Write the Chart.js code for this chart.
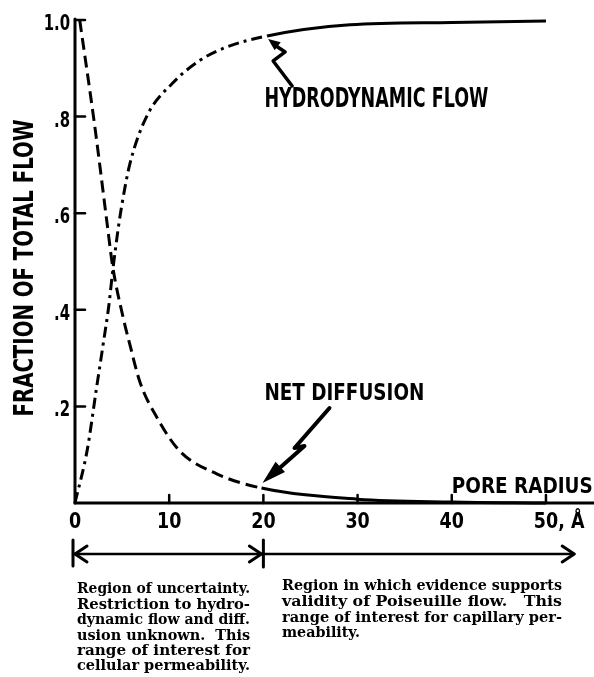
<!DOCTYPE html>
<html><head><meta charset="utf-8">
<script src="https://cdn.jsdelivr.net/npm/chart.js@4.4.0/dist/chart.umd.min.js"></script>
<style>html,body{margin:0;padding:0;background:#fff;} #wrap{width:594px;height:677px;position:relative;}</style>
</head><body><div id="wrap"><canvas id="c" width="594" height="677" style="width:594px;height:677px"></canvas></div>
<script>
// ---- data ----
const hydroX = [0, 1.3, 2.3, 3.0, 3.6, 4.0, 4.6, 5.0, 5.8, 7.6, 10.4, 13.3, 16.1, 20.4, 29.2, 40, 50];
const hydroY = [0, 0.11, 0.24, 0.33, 0.41, 0.48, 0.57, 0.62, 0.70, 0.80, 0.87, 0.917, 0.944, 0.967, 0.99, 0.995, 0.998];
const diffX = [0.5, 2.1, 3.4, 4.0, 5.1, 5.8, 6.9, 8.7, 11.1, 15.1, 19.8, 30, 40, 50];
const diffY = [1.0, 0.78, 0.58, 0.49, 0.385, 0.33, 0.25, 0.177, 0.108, 0.06, 0.031, 0.008, 0.002, 0.0];
const xTicks = [0, 10, 20, 30, 40, 50];
const xTickLabels = ["0", "10", "20", "30", "40", "50"];
const xUnit = ", Å";
const yTicks = [0.2, 0.4, 0.6, 0.8, 1.0];
const yTickLabels = [".2", ".4", ".6", ".8", "1.0"];
const yTitle = "FRACTION OF TOTAL FLOW";
const labelHydro = "HYDRODYNAMIC FLOW";
const labelDiff = "NET DIFFUSION";
const labelX = "PORE RADIUS";
const regionBounds = [0, 20, 53];
const leftNote = ["Region of uncertainty.", "Restriction to hydro-", "dynamic flow and diff.", "usion unknown.  This", "range of interest for", "cellular permeability."];
const rightNote = ["Region in which evidence supports", "validity of Poiseuille flow.   This", "range of interest for capillary per-", "meability."];

const LET = "'DejaVu Sans'";
function txt(ctx, s, x, y, cap, opts) {
  opts = opts || {};
  const size = cap / 0.729;
  ctx.save();
  ctx.font = (opts.weight || 'bold') + ' ' + size.toFixed(1) + 'px ' + (opts.family || LET);
  const w0 = ctx.measureText(s).width;
  const sx = opts.width ? opts.width / w0 : (opts.sx || 1);
  const w = w0 * sx;
  let x0 = x;
  if (opts.align === 'center') x0 = x - w / 2; else if (opts.align === 'right') x0 = x - w;
  ctx.translate(x0, y);
  ctx.scale(sx, 1);
  ctx.textAlign = 'left'; ctx.textBaseline = 'alphabetic';
  ctx.fillStyle = '#000';
  ctx.fillText(s, 0, 0);
  ctx.restore();
}
function line(ctx, pts, w) {
  ctx.beginPath(); ctx.moveTo(pts[0][0], pts[0][1]);
  for (let i = 1; i < pts.length; i++) ctx.lineTo(pts[i][0], pts[i][1]);
  ctx.lineWidth = w; ctx.strokeStyle = '#000'; ctx.lineCap = 'round'; ctx.lineJoin = 'round'; ctx.stroke();
}
function head(ctx, tip, from, len, wid) {
  const dx = tip[0] - from[0], dy = tip[1] - from[1];
  const d = Math.hypot(dx, dy), ux = dx / d, uy = dy / d;
  const bx = tip[0] - ux * len, by = tip[1] - uy * len;
  ctx.beginPath(); ctx.moveTo(tip[0], tip[1]);
  ctx.lineTo(bx - uy * wid / 2, by + ux * wid / 2);
  ctx.lineTo(bx + uy * wid / 2, by - ux * wid / 2);
  ctx.closePath(); ctx.fillStyle = '#000'; ctx.fill();
}

const deco = {
  id: 'deco',
  beforeDraw(chart) {
    const c = chart.ctx; c.save(); c.fillStyle = '#fff'; c.fillRect(0, 0, chart.width, chart.height); c.restore();
  },
  afterDraw(chart) {
    const c = chart.ctx, xs = chart.scales.x, ys = chart.scales.y;
    const X = v => xs.getPixelForValue(v), Y = v => ys.getPixelForValue(v);
    const x0 = X(0), y0 = Y(0);
    // axes
    line(c, [[x0, y0], [x0, Y(1.0) - 1]], 3);
    line(c, [[x0, y0], [chart.width, y0]], 3);
    // ticks
    yTicks.forEach((v, i) => {
      line(c, [[x0, Y(v)], [x0 + 10, Y(v)]], 2.5);
      txt(c, yTickLabels[i], 70, Y(v) + 10, 16, {sx: 0.68, align: 'right'});
    });
    xTicks.forEach((v, i) => {
      if (v > 0) line(c, [[X(v), y0], [X(v), y0 - 8]], 2.5);
      txt(c, xTickLabels[i], X(v), y0 + 25, 15, {sx: 0.85, align: 'center'});
    });
    {
      c.save(); c.font = 'bold ' + (15 / 0.729).toFixed(1) + 'px ' + LET;
      const w = c.measureText(xTickLabels[xTickLabels.length - 1]).width * 0.85; c.restore();
      txt(c, xUnit, X(50) + w / 2, y0 + 25, 15, {sx: 0.85});
    }
    // axis title
    c.save(); c.translate(33, 268); c.rotate(-Math.PI / 2);
    txt(c, yTitle, 0, 0, 20, {width: 297, align: 'center'});
    c.restore();
    // labels
    txt(c, labelHydro, X(20) + 1, 107, 19, {width: 224});
    txt(c, labelDiff, X(20) + 1, 400, 17, {width: 160});
    txt(c, labelX, X(40), 493, 16, {width: 141});
    // hydro arrow
    const th = [X(20.4) + 1, Y(0.967) + 3];
    const hp = [[th[0] + 24, th[1] + 47], [th[0] + 5, th[1] + 22], [th[0] + 17, th[1] + 13], [th[0] + 5, th[1] + 5]];
    line(c, hp, 3.5);
    head(c, th, [th[0] + 17, th[1] + 13], 12, 10);
    // diffusion arrow
    const td = [X(19.8) + 1, Y(0.031) - 5];
    const dp = [[td[0] + 67, td[1] - 75], [td[0] + 32, td[1] - 35], [td[0] + 42, td[1] - 37], [td[0] + 16, td[1] - 14]];
    line(c, dp, 4);
    head(c, td, [td[0] + 22, td[1] - 20], 24, 14);
    // region arrows
    const ya = 554;
    const a0 = X(regionBounds[0]) - 2, a1 = X(regionBounds[1]), a2 = X(regionBounds[2]);
    line(c, [[a0, 540], [a0, 566]], 3);
    line(c, [[a1, 540], [a1, 567]], 3);
    line(c, [[a0, ya], [a2, ya]], 2.5);
    line(c, [[a0 + 14, ya - 8], [a0 + 2, ya], [a0 + 14, ya + 8]], 3);
    line(c, [[a1 - 14, ya - 8], [a1 - 2, ya], [a1 - 14, ya + 8]], 3);
    line(c, [[a2 - 12, ya - 8], [a2, ya], [a2 - 12, ya + 8]], 3);
    // notes
    const SERIF = "'DejaVu Serif'";
    const lc = [588, 604, 619, 635, 650, 665];
    leftNote.forEach((s, i) => txt(c, s, 77, lc[i] + 4.5, 10.5, {family: SERIF, width: 173}));
    const rc = [585, 601.5, 617, 632.5];
    rightNote.forEach((s, i) => txt(c, s, 282, rc[i] + 4.5, 10.5, {family: SERIF, width: i === 3 ? 78 : 280}));
  }
};

new Chart(document.getElementById('c'), {
  type: 'line',
  data: {
    datasets: [
      {
        label: labelHydro,
        data: hydroX.map((x, i) => ({x, y: hydroY[i]})),
        borderColor: '#000', borderWidth: 3, pointRadius: 0, fill: false,
        cubicInterpolationMode: 'monotone', clip: 8,
        segment: { borderDash: ctx => ctx.p0.parsed.x >= 20 ? [] : [11, 5, 3, 5] }
      },
      {
        label: labelDiff,
        data: diffX.map((x, i) => ({x, y: diffY[i]})),
        borderColor: '#000', borderWidth: 3, pointRadius: 0, fill: false,
        cubicInterpolationMode: 'monotone', clip: 8,
        segment: { borderDash: ctx => ctx.p0.parsed.x >= 19.5 ? [] : [12, 6] }
      }
    ]
  },
  options: {
    responsive: false, animation: false, devicePixelRatio: 1,
    layout: { padding: { top: 20, left: 0, right: 0, bottom: 0 } },
    plugins: { legend: { display: false }, tooltip: { enabled: false } },
    scales: {
      x: {
        type: 'linear', min: 0, max: 55.1,
        grid: { display: false }, border: { display: false }, ticks: { display: false },
        afterBuildTicks: s => { s.ticks = xTicks.map(v => ({value: v})); },
        afterFit: s => { s.height = 174; }
      },
      y: {
        type: 'linear', min: 0, max: 1,
        grid: { display: false }, border: { display: false }, ticks: { display: false },
        afterBuildTicks: s => { s.ticks = yTicks.map(v => ({value: v})); },
        afterFit: s => { s.width = 75; }
      }
    }
  },
  plugins: [deco]
});
</script>
</body></html>
